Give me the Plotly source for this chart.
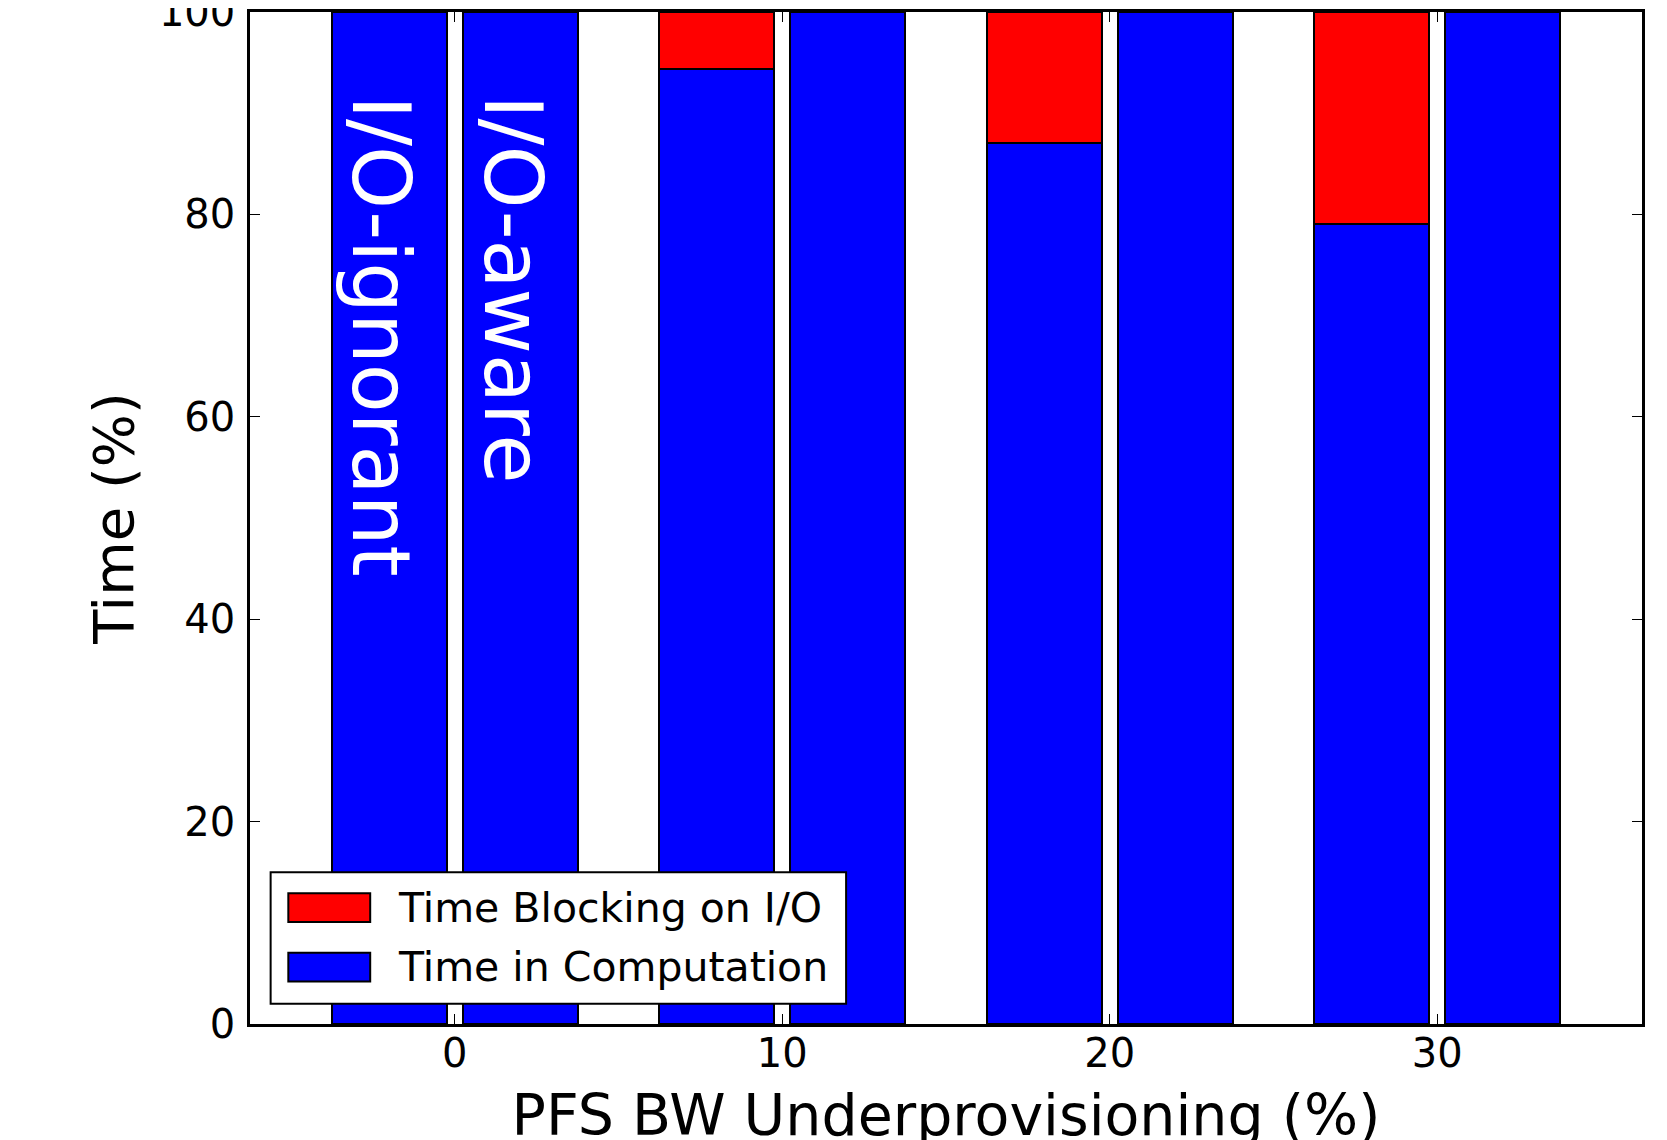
import plotly.graph_objects as go

# ---- data ----
underprov = [0, 10, 20, 30]
ignorant_comp = [100, 94.4, 87.1, 79.1]
ignorant_block = [0, 5.6, 12.9, 20.9]
aware_comp = [100, 100, 100, 100]
aware_block = [0, 0, 0, 0]
y_ticks = [0, 20, 40, 60, 80, 100]
x_ticks = [0, 10, 20, 30]

offset = 2.0
bar_w = 3.5
RED = "#FF0000"
BLUE = "#0000FF"
FONT = "DejaVu Sans"

x_ign = [u - offset for u in underprov]
x_aw = [u + offset for u in underprov]

line = dict(color="black", width=2)
fig = go.Figure()
fig.add_trace(go.Bar(x=x_ign, y=ignorant_comp, width=bar_w, marker=dict(color=BLUE, line=line),
                     name="Time in Computation", showlegend=False))
fig.add_trace(go.Bar(x=x_ign, y=ignorant_block, width=bar_w, marker=dict(color=RED, line=line),
                     name="Time Blocking on I/O", showlegend=False))
fig.add_trace(go.Bar(x=x_aw, y=aware_comp, width=bar_w, marker=dict(color=BLUE, line=line),
                     name="Time in Computation", showlegend=False))
fig.add_trace(go.Bar(x=x_aw, y=aware_block, width=bar_w, marker=dict(color=RED, line=line),
                     name="Time Blocking on I/O", showlegend=False))

# in-bar labels
fig.add_annotation(x=underprov[0] - 2.25, y=92.0, xref="x", yref="y", text="I/O-ignorant",
                   textangle=90, showarrow=False, xanchor="center", yanchor="top",
                   font=dict(family=FONT, size=80, color="white"))
fig.add_annotation(x=underprov[0] + 1.75, y=92.0, xref="x", yref="y", text="I/O-aware",
                   textangle=90, showarrow=False, xanchor="center", yanchor="top",
                   font=dict(family=FONT, size=80, color="white"))

# legend (drawn as box + patches + text)
fig.add_shape(type="rect", xref="x", yref="y", x0=-5.62, x1=11.95, y0=2.0, y1=15.0,
              fillcolor="white", line=dict(color="black", width=2), layer="above")
fig.add_shape(type="rect", xref="x", yref="y", x0=-5.08, x1=-2.58, y0=10.08, y1=12.92,
              fillcolor=RED, line=dict(color="black", width=2), layer="above")
fig.add_shape(type="rect", xref="x", yref="y", x0=-5.08, x1=-2.58, y0=4.2, y1=7.04,
              fillcolor=BLUE, line=dict(color="black", width=2), layer="above")
fig.add_annotation(x=-1.8, y=11.5, xref="x", yref="y", text="Time Blocking on I/O",
                   showarrow=False, xanchor="left", yanchor="middle",
                   font=dict(family=FONT, size=41, color="black"))
fig.add_annotation(x=-1.8, y=5.62, xref="x", yref="y", text="Time in Computation",
                   showarrow=False, xanchor="left", yanchor="middle",
                   font=dict(family=FONT, size=41, color="black"))

fig.update_layout(
    width=1667, height=1140,
    margin=dict(l=242, r=33, t=4, b=124, autoexpand=False),
    paper_bgcolor="white", plot_bgcolor="white",
    barmode="stack", bargap=0,
    font=dict(family=FONT, size=40, color="black"),
)
fig.update_xaxes(
    range=[-6.25, 36.25], tickvals=x_ticks, ticktext=[str(v) for v in x_ticks],
    ticks="inside", ticklen=10, tickwidth=1.3, tickcolor="black",
    showline=True, linecolor="black", linewidth=2.5, mirror="ticks",
    showgrid=False, zeroline=False, ticklabelstandoff=-8, automargin=False,
    ticklabeloverflow="allow",
    tickfont=dict(family=FONT, size=40, color="black"),
    title=dict(text="PFS BW Underprovisioning (%)", font=dict(family=FONT, size=57, color="black"), standoff=28),
)
fig.update_yaxes(
    range=[0, 100], tickvals=y_ticks, ticktext=[str(v) for v in y_ticks],
    ticks="inside", ticklen=10, tickwidth=1.3, tickcolor="black",
    showline=True, linecolor="black", linewidth=2.5, mirror="ticks",
    showgrid=False, zeroline=False, ticklabelstandoff=4, automargin=False,
    ticklabeloverflow="allow",
    tickfont=dict(family=FONT, size=40, color="black"),
    title=dict(text="Time (%)", font=dict(family=FONT, size=56, color="black"), standoff=8),
)

fig.write_html("out.html")
